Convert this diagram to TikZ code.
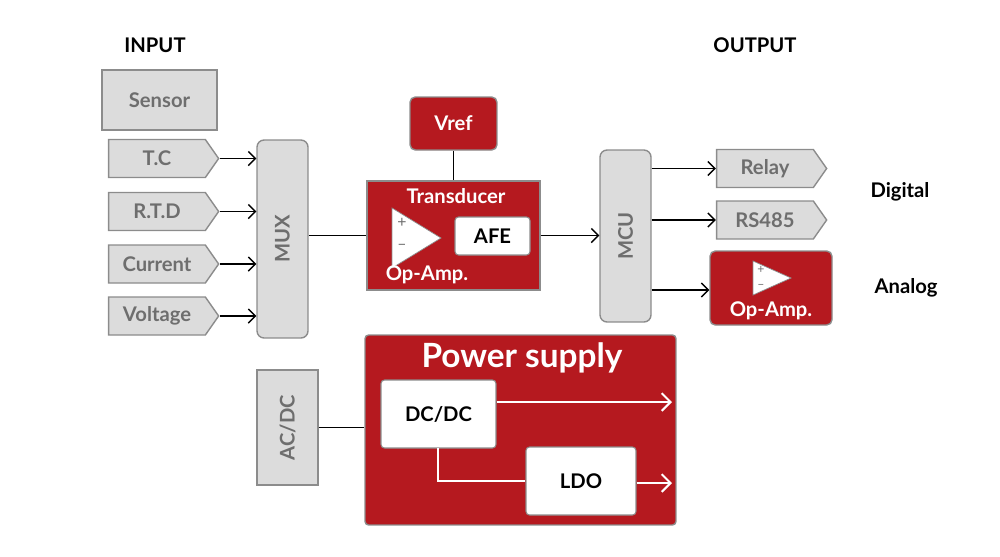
\documentclass[tikz,border=0pt]{standalone}
\usepackage{fontspec}
\setmainfont{Lato}
\usetikzlibrary{shapes.symbols,arrows.meta}
\definecolor{rd}{HTML}{B5191F}
\definecolor{gf}{HTML}{DCDCDC}
\definecolor{gb}{HTML}{8C8C8C}
\definecolor{gt}{HTML}{6E6E6E}
\begin{document}
\begin{tikzpicture}[x=0.02cm,y=-0.02cm,
  fs/.style={font=\fontsize{11.5}{13}\selectfont\bfseries},
  gbox/.style={draw=gb,line width=0.8pt,fill=gf,text=gt,fs,inner sep=0pt},
  tag/.style={gbox,shape=signal,signal to=east,signal pointer angle=110,minimum width=2.2cm,minimum height=0.76cm},
  rbox/.style={draw=gb,line width=0.8pt,fill=rd,text=white,inner sep=0pt},
  wbox/.style={draw=gb,line width=0.6pt,fill=white,rounded corners=2pt,fs,inner sep=0pt},
  arr/.style={-{Straight Barb[length=4pt,width=8pt]},line width=0.8pt},
  warr/.style={-{Straight Barb[length=5pt,width=10pt]},line width=1.2pt,draw=white},
  lbl/.style={fs,text=black}]
\useasboundingbox (0,0) rectangle (1000,556);
\node[lbl] at (155,45) {INPUT};
\node[lbl] at (755,45) {OUTPUT};
\node[lbl] at (900,192) {Digital};
\node[lbl] at (906,288) {Analog};
\node[gbox,minimum width=2.3cm,minimum height=1.2cm] (sen) at (159.5,100) {Sensor};
\node[tag] (tc) at (157,158.5) {T.C};
\node[tag] (rtd) at (157,211.5) {R.T.D};
\node[tag] (cur) at (157,264) {Current};
\node[tag] (vol) at (157,316) {Voltage};
\node[gbox,rounded corners=4pt,minimum width=1.02cm,minimum height=3.96cm] (mux) at (282.5,239) {\rotatebox{90}{MUX}};
\foreach \t in {tc,rtd,cur,vol} \draw[arr] (\t.east) -- (mux.west |- \t.east);
\node[rbox,rounded corners=3pt,minimum width=1.74cm,minimum height=1.06cm,fs] (vref) at (453.5,123.5) {Vref};
\node[rbox,minimum width=3.46cm,minimum height=2.18cm] (tr) at (453.5,235.5) {};
\node[text=white,fs] at (456,196) {Transducer};
\draw[fill=white,draw=gb,line width=0.4pt] (392,208) coordinate (t1) -- (441,238) -- (392,268) -- cycle;
\node[text=gt,font=\small] at (402,223) {+};
\node[text=gt,font=\small] at (402,247) {–};
\node[wbox,minimum width=1.5cm,minimum height=0.76cm] (afe) at (492.5,236) {AFE};
\node[text=white,fs] at (427,275) {Op-Amp.};
\draw[line width=0.8pt] (vref.south) -- (tr.north);
\draw[line width=0.8pt] (mux.east |- tr.west) -- (tr.west);
\node[gbox,rounded corners=4pt,minimum width=1.02cm,minimum height=3.44cm] (mcu) at (625.5,236) {\rotatebox{90}{MCU}};
\draw[arr] (tr.east) -- (tr.east -| mcu.west);
\node[tag] (rel) at (765,168.5) {Relay};
\node[tag] (rs) at (765,220) {RS485};
\node[rbox,rounded corners=3pt,minimum width=2.44cm,minimum height=1.48cm] (oa) at (771,288) {};
\draw[fill=white,draw=gb,line width=0.4pt] (753,261) -- (791,278) -- (753,295) -- cycle;
\node[text=gt,font=\scriptsize] at (761,270) {+};
\node[text=gt,font=\scriptsize] at (761,286) {–};
\node[text=white,fs] at (771,311) {Op-Amp.};
\draw[arr] (mcu.east |- rel.west) -- (rel.west);
\draw[arr] (mcu.east |- rs.west) -- (rs.west);
\draw[arr] (mcu.east |- 0,290) -- (oa.west |- 0,290);
\node[gbox,minimum width=1.22cm,minimum height=2.3cm] (ac) at (287.5,427.5) {\rotatebox{90}{AC/DC}};
\node[rbox,rounded corners=2pt,minimum width=6.22cm,minimum height=3.8cm] (ps) at (520.5,430) {};
\node[text=white,font=\fontsize{19}{22}\selectfont\bfseries] at (522,358) {Power supply};
\draw[line width=0.8pt] (ac.east) -- (ac.east -| ps.west);
\node[wbox,minimum width=2.3cm,minimum height=1.36cm] (dc) at (438.5,414) {DC/DC};
\node[wbox,minimum width=2.2cm,minimum height=1.36cm] (ldo) at (581,481) {LDO};
\coordinate (o1) at (672,402);
\coordinate (o2) at (672,483);
\draw[warr] (dc.east |- o1) -- (o1);
\draw[line width=1.2pt,white] (438,448) |- (ldo.west);
\draw[warr] (ldo.east |- o2) -- (o2);
\end{tikzpicture}
\end{document}
